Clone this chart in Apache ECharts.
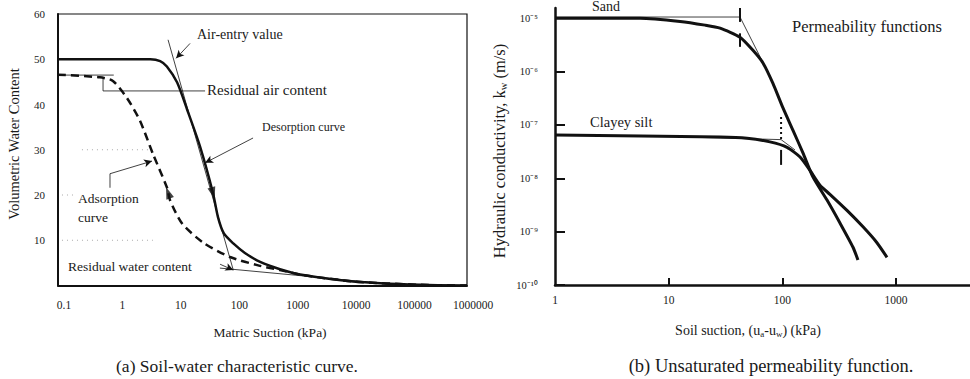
<!DOCTYPE html>
<html>
<head>
<meta charset="utf-8">
<script src="https://cdn.jsdelivr.net/npm/echarts@6/dist/echarts.min.js"></script>
<style>
html,body{margin:0;padding:0;background:#fff}
#c{width:970px;height:379px}
</style>
</head>
<body>
<div id="c"></div>
<script>
// ---- (a) Soil-water characteristic curve: matric suction (kPa) vs volumetric water content (%)
const suctionTicksA = ['0.1', '1', '10', '100', '1000', '10000', '100000', '1000000'];
const waterTicks = [10, 20, 30, 40, 50, 60];
const desorption = [[0.1, 50], [1, 50], [3.8, 50], [5.6, 49.6], [7.3, 48.4], [10.9, 44.9], [16.2, 38.9], [27, 30.7], [45, 20.4], [55, 15], [69, 11.5], [100, 9.3], [158, 7.2], [288, 5.2], [630, 3.6], [1580, 2.3], [11200, 0.9], [158000, 0.15], [1000000, 0]];
const adsorption = [[0.1, 46.6], [0.52, 46], [0.87, 45.2], [1.52, 41.4], [2.53, 36.4], [4.24, 29], [7.35, 21.6], [8.3, 18.8], [13.3, 13.7], [30.4, 9.5], [88, 6.3], [257, 4.5], [630, 3.4], [1580, 2.3], [11200, 0.9], [158000, 0.15], [1000000, 0]];
// construction lines
const airEntryTangent = [[7.65, 54.3], [100, 3.4]];
const residualWaterTangent = [[59, 3.85], [71800, 0.1]];
const residualAirBracket = [[0.59, 46.0], [0.59, 43.0], [32.9, 43.0]];
const adsorptionStartLevel = [[0.1, 46.5], [0.9, 46.5]];
const gridDots = [[[0.257, 30], [3.47, 30]], [[0.117, 20], [0.195, 20]], [[0.117, 10], [4.2, 10]]];
// leader arrows: [from, to]
const leadersA = [
  [[18.2, 53.5], [10.5, 50.2]],
  [[218, 32.6], [32.9, 27.1]],
  [[0.776, 24.7], [4.07, 27.5]],
  [[59.4, 4.7], [100, 3.4]]
];
const adsorptionLeaderStem = [[0.776, 21.6], [0.776, 24.7]];
// direction arrows on the curves: [x, theta, rotation]
const curveArrows = [[45, 20.4, 196], [7.66, 20.5, 20]];

// ---- (b) Unsaturated permeability functions: soil suction (kPa) vs k_w (m/s)
const suctionTicksB = ['1', '10', '100', '1000'];
const kExponents = [-10, -9, -8, -7, -6, -5];
const kTickLabels = ['10⁻¹⁰', '10⁻⁹', '10⁻⁸', '10⁻⁷', '10⁻⁶', '10⁻⁵'];
const sand = [[1, 1.0e-5], [5.6, 1.0e-5], [12.6, 8.7e-6], [20.9, 7.4e-6], [28.3, 6.5e-6], [42.4, 4.4e-6], [55.1, 2.5e-6], [67.5, 1.45e-6], [82.6, 6.0e-7], [101, 2.1e-7], [124, 7.9e-8], [152, 2.95e-8], [186, 1.05e-8], [247, 3.9e-9], [321, 1.45e-9], [418, 5.1e-10], [462, 2.95e-10]];
const clayeySilt = [[1, 6.5e-8], [28.3, 5.9e-8], [48.9, 5.6e-8], [77.8, 4.8e-8], [110, 3.8e-8], [143, 2.5e-8], [175, 1.4e-8], [214, 7.4e-9], [262, 5.0e-9], [370, 2.5e-9], [512, 1.23e-9], [679, 6.2e-10], [832, 3.3e-10]];
const sandLevel = [[1, 1.05e-5], [42.4, 1.05e-5], [66, 1.62e-6]];
const sandMarks = [[[42.4, 1.55e-5], [42.4, 8.5e-6]], [[42.4, 5.2e-6], [42.4, 2.9e-6]]];
const clayLevel = [[20, 5.8e-8], [97.4, 5.3e-8], [129, 3.4e-8]];
const clayMarkTop = [[97.4, 1.41e-7], [97.4, 5.2e-8]];
const clayMarkLow = [[97.4, 3.4e-8], [97.4, 1.78e-8]];

const serif = '"Liberation Serif", "Times New Roman", serif';
const ink = '#111';
const textInk = '#1a1a1a';

function decadeFormatter(labels, firstExp) {
  return v => labels[Math.round(Math.log10(v)) - firstExp] || '';
}
function thin(data, xi, extra) {
  return Object.assign({
    type: 'line', xAxisIndex: xi, yAxisIndex: xi, data: data, symbol: 'none', silent: true,
    lineStyle: { color: ink, width: 0.8 }, z: 3
  }, extra || {});
}
function label(text, x, y, size, align, extra) {
  return Object.assign({
    type: 'text', x: x, y: y, silent: true,
    style: { text: text, fontSize: size, fontFamily: serif, fill: textInk, align: align || 'left', verticalAlign: 'middle' }
  }, extra || {});
}

const series = [
  { type: 'line', xAxisIndex: 0, yAxisIndex: 0, data: desorption, symbol: 'none', smooth: 0.25, lineStyle: { color: ink, width: 2.5 }, z: 5 },
  { type: 'line', xAxisIndex: 0, yAxisIndex: 0, data: adsorption, symbol: 'none', smooth: 0.25, lineStyle: { color: ink, width: 2.5, type: [8, 5] }, z: 5 },
  thin(airEntryTangent, 0),
  thin(residualWaterTangent, 0),
  thin(residualAirBracket, 0),
  thin(adsorptionStartLevel, 0),
  thin(adsorptionLeaderStem, 0),
  ...gridDots.map(d => thin(d, 0, { lineStyle: { color: '#aaa', width: 1, type: [1, 4] }, z: 1 })),
  {
    type: 'line', xAxisIndex: 0, yAxisIndex: 0, data: [], silent: true,
    markLine: {
      silent: true, symbol: ['none', 'arrow'], symbolSize: [6, 8], animation: false,
      label: { show: false }, lineStyle: { color: ink, width: 0.8, type: 'solid' },
      data: leadersA.map(p => [{ coord: p[0] }, { coord: p[1] }])
    }
  },
  {
    type: 'scatter', xAxisIndex: 0, yAxisIndex: 0, silent: true, symbol: 'triangle', symbolSize: [8, 12],
    itemStyle: { color: ink }, z: 6,
    data: curveArrows.map(a => ({ value: [a[0], a[1]], symbolRotate: a[2] }))
  },
  { type: 'line', xAxisIndex: 1, yAxisIndex: 1, data: sand, symbol: 'none', smooth: 0.2, lineStyle: { color: ink, width: 3 }, z: 5 },
  { type: 'line', xAxisIndex: 1, yAxisIndex: 1, data: clayeySilt, symbol: 'none', smooth: 0.2, lineStyle: { color: ink, width: 3 }, z: 5 },
  thin(sandLevel, 1),
  thin(clayLevel, 1),
  ...sandMarks.map(d => thin(d, 1, { lineStyle: { color: ink, width: 2 } })),
  thin(clayMarkTop, 1, { lineStyle: { color: ink, width: 2, type: [2, 3] } }),
  thin(clayMarkLow, 1, { lineStyle: { color: ink, width: 2 } })
];

const labelFont = { fontFamily: serif, color: textInk };

const option = {
  animation: false,
  backgroundColor: '#fff',
  grid: [
    { left: 58, top: 14, width: 409, height: 271.5, show: true, borderColor: ink, borderWidth: 1.2, backgroundColor: 'transparent' },
    { left: 555, top: 8, right: 0, height: 277 }
  ],
  xAxis: [
    {
      gridIndex: 0, type: 'log', logBase: 10, min: 0.1, max: 1e6, interval: 1, splitNumber: 7,
      axisLine: { lineStyle: { color: ink, width: 2 } }, axisTick: { show: false },
      splitLine: { show: false }, minorTick: { show: false },
      axisLabel: Object.assign({ fontSize: 11.5, margin: 13, padding: [0, 0, 0, 12], customValues: suctionTicksA.map(Number), formatter: decadeFormatter(suctionTicksA, -1) }, labelFont)
    },
    {
      gridIndex: 1, type: 'log', logBase: 10, min: 1, max: 4470, interval: 1,
      axisLine: { lineStyle: { color: ink, width: 2.5 } },
      axisTick: { inside: true, length: 7, lineStyle: { color: ink, width: 2 }, customValues: suctionTicksB.slice(1).map(Number) },
      splitLine: { show: false }, minorTick: { show: false },
      axisLabel: Object.assign({ fontSize: 11.5, margin: 9, customValues: suctionTicksB.map(Number), formatter: decadeFormatter(suctionTicksB, 0) }, labelFont)
    }
  ],
  yAxis: [
    {
      gridIndex: 0, type: 'value', min: 0, max: 60, interval: 10,
      axisLine: { show: true, lineStyle: { color: ink, width: 2 } }, axisTick: { show: false },
      splitLine: { show: false },
      axisLabel: Object.assign({ fontSize: 11, margin: 13, customValues: waterTicks }, labelFont)
    },
    {
      gridIndex: 1, type: 'log', logBase: 10, min: 1e-10, max: 1.55e-5, interval: 1,
      axisLine: { show: true, lineStyle: { color: ink, width: 2.5 } },
      axisTick: { inside: true, length: 10, lineStyle: { color: ink, width: 2 }, customValues: kExponents.map(e => Math.pow(10, e)) },
      splitLine: { show: false }, minorTick: { show: false },
      axisLabel: Object.assign({ fontSize: 10.5, margin: 17, customValues: kExponents.map(e => Math.pow(10, e)), formatter: decadeFormatter(kTickLabels, -10) }, labelFont)
    }
  ],
  series: series,
  graphic: [
    // panel (a) texts
    label('Volumetric Water Content', 14, 144, 14.5, 'center', { rotation: Math.PI / 2 }),
    label('Matric Suction (kPa)', 270, 332, 13.5, 'center'),
    label('(a) Soil-water characteristic curve.', 237, 366, 17.5, 'center'),
    label('Air-entry value', 197, 34, 14),
    label('Residual air content', 207, 90, 15),
    label('Desorption curve', 262, 127, 12),
    label('Adsorption', 78, 198, 13.5),
    label('curve', 78, 217, 13.5),
    label('Residual water content', 68, 266, 13.5),
    // panel (b) texts
    {
      type: 'text', x: 499, y: 151, rotation: Math.PI / 2, silent: true,
      style: { text: 'Hydraulic conductivity, k{s|w} (m/s)', rich: { s: { fontSize: 10.5, fontFamily: serif, fill: textInk, padding: [8, 0, 0, 0] } }, fontSize: 16.5, fontFamily: serif, fill: textInk, align: 'center', verticalAlign: 'middle' }
    },
    {
      type: 'text', x: 748, y: 330, silent: true,
      style: { text: 'Soil suction, (u{s|a}-u{s|w}) (kPa)', rich: { s: { fontSize: 9, fontFamily: serif, fill: textInk, padding: [7, 0, 0, 0] } }, fontSize: 14, fontFamily: serif, fill: textInk, align: 'center', verticalAlign: 'middle' }
    },
    label('(b) Unsaturated permeability function.', 771, 366, 18.5, 'center'),
    label('Permeability functions', 792, 26, 16.5),
    label('Sand', 592, 6, 14),
    label('Clayey silt', 590, 122, 14.5)
  ]
};

const chart = echarts.init(document.getElementById('c'), null, { renderer: 'svg' });
chart.setOption(option);
</script>
</body>
</html>
